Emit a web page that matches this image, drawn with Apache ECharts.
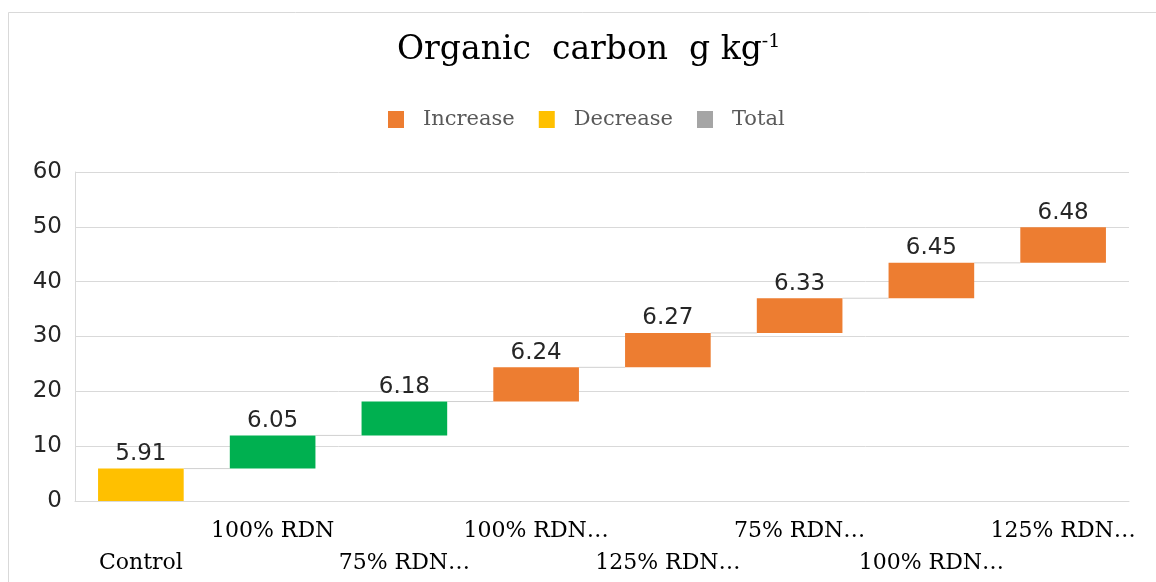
<!DOCTYPE html>
<html>
<head>
  <meta charset="utf-8" />
  <title>Organic carbon</title>
  <script src="https://cdn.jsdelivr.net/npm/echarts@6.0.0/dist/echarts.min.js"></script>
  <style>
    body { margin: 0; background: #fff; }
  </style>
</head>
<body>
  <div id="main" style="width:1156px;height:582px;"></div>
  <script type="text/javascript">
    // data
    var categories = ['Control', '100% RDN', '75% RDN…', '100% RDN…', '125% RDN…', '75% RDN…', '100% RDN…', '125% RDN…'];
    var values = [5.91, 6.05, 6.18, 6.24, 6.27, 6.33, 6.45, 6.48];
    var barKinds = ['decrease', 'green', 'green', 'increase', 'increase', 'increase', 'increase', 'increase'];
    var yTicks = [0, 10, 20, 30, 40, 50, 60];

    var colors = { increase: '#ED7D31', decrease: '#FFC000', total: '#A5A5A5', green: '#00B050' };
    var serif = '"DejaVu Serif", "Liberation Serif", serif';
    var sans = '"DejaVu Sans", Verdana, sans-serif';

    // waterfall: base = running total before each step
    var base = [], tops = [], run = 0;
    values.forEach(function (v) {
      base.push(+run.toFixed(2));
      run += v;
      tops.push(+run.toFixed(2));
    });

    var myChart = echarts.init(document.getElementById('main'));

    var option = {
      backgroundColor: '#fff',
      animation: false,
      graphic: [{
        type: 'rect',
        shape: { x: 8.5, y: 12.5, width: 1200, height: 600 },
        style: { fill: 'none', stroke: '#d9d9d9', lineWidth: 1 },
        silent: true
      }],
      title: {
        text: 'Organic  carbon  g kg{sup|-1}',
        left: 392,
        top: 28,
        textStyle: {
          fontFamily: serif, fontSize: 33, fontWeight: 'normal', color: '#000',
          rich: { sup: { fontFamily: serif, fontSize: 19, verticalAlign: 'top', padding: [0, 0, 16, 0], color: '#000' } }
        }
      },
      legend: {
        top: 104,
        left: 383,
        data: ['Increase', 'Decrease', 'Total'],
        icon: 'rect',
        itemWidth: 16,
        itemHeight: 17,
        itemGap: 24,
        textStyle: { fontFamily: serif, fontSize: 21, color: '#595959', padding: [0, 0, 0, 14] }
      },
      grid: { left: 75, right: 27, top: 172, bottom: 81 },
      xAxis: {
        type: 'category',
        data: categories,
        axisLine: { lineStyle: { color: '#d9d9d9' } },
        axisTick: { show: false },
        axisLabel: {
          interval: 0,
          margin: 14,
          fontFamily: serif,
          fontSize: 22,
          color: '#000',
          lineHeight: 32,
          formatter: function (v, i) { return i % 2 ? v : '\n' + v; }
        }
      },
      yAxis: {
        type: 'value',
        min: yTicks[0],
        max: yTicks[yTicks.length - 1],
        interval: 10,
        axisLine: { show: true, lineStyle: { color: '#d9d9d9' } },
        axisTick: { show: false },
        axisLabel: { margin: 13, fontFamily: sans, fontSize: 23, color: '#262626' },
        splitLine: { lineStyle: { color: '#d9d9d9' } }
      },
      series: [
        {
          name: 'base',
          type: 'bar',
          stack: 'w',
          barCategoryGap: '35%',
          itemStyle: { color: 'transparent' },
          data: base,
          silent: true
        },
        {
          name: 'Increase',
          type: 'bar',
          stack: 'w',
          itemStyle: { color: colors.increase },
          label: {
            show: true, position: 'top', distance: 3,
            fontFamily: sans, fontSize: 23, color: '#262626',
            formatter: function (p) { return p.value.toFixed(2); }
          },
          data: values.map(function (v, i) {
            return { value: v, itemStyle: { color: colors[barKinds[i]] } };
          })
        },
        { name: 'Decrease', type: 'bar', stack: 'w', itemStyle: { color: colors.decrease }, data: [] },
        { name: 'Total', type: 'bar', stack: 'w', itemStyle: { color: colors.total }, data: [] },
        {
          name: 'connector',
          type: 'custom',
          silent: true,
          z: 1,
          data: tops.slice(0, -1).map(function (t, i) { return [i, t]; }),
          renderItem: function (params, api) {
            var i = api.value(0), v = api.value(1);
            var a = api.coord([i, v]);
            var b = api.coord([i + 1, v]);
            var half = api.size([1, 0])[0] * 0.65 / 2;
            return {
              type: 'line',
              shape: { x1: a[0] + half, y1: a[1], x2: b[0] - half, y2: b[1] },
              style: { stroke: '#d0d0d0', lineWidth: 1 }
            };
          }
        }
      ]
    };

    myChart.setOption(option);
  </script>
</body>
</html>
